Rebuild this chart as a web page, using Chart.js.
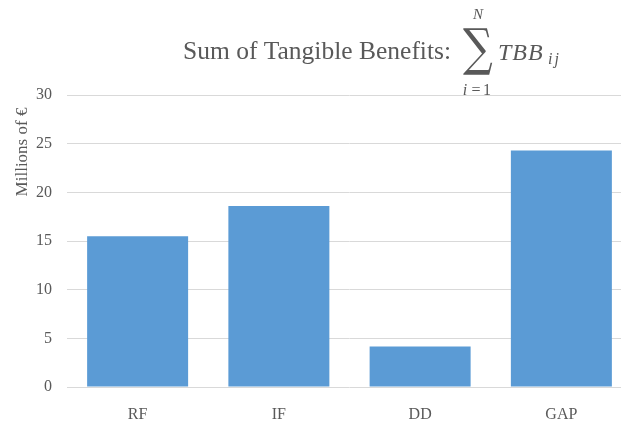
<!DOCTYPE html>
<html>
<head>
<meta charset="utf-8">
<script src="https://cdn.jsdelivr.net/npm/chart.js@4"></script>
<style>
  html, body { margin: 0; padding: 0; background: #fff; overflow: hidden; }
  #wrap { width: 632px; height: 421px; }
</style>
</head>
<body>
<div id="wrap"><canvas id="chartBarras" width="632" height="421"></canvas></div>
<script>
const categorias = ['RF', 'IF', 'DD', 'GAP'];
const beneficios = [15.5, 18.6, 4.15, 24.3];
const ticksY = [0, 5, 10, 15, 20, 25, 30];

const tituloTexto = 'Sum of Tangible Benefits:';
const eixoYTexto = 'Millions of \u20AC';
const corTexto = '#595959';
const fonteSerif = '"Liberation Serif", "Times New Roman", Times, "DejaVu Serif", serif';

// title with the sum formula + rotated y axis title
const pluginTitulo = {
    id: 'pluginTitulo',
    afterDraw(chart) {
        const ctx = chart.ctx;
        ctx.save();
        ctx.fillStyle = corTexto;
        ctx.textBaseline = 'alphabetic';
        ctx.textAlign = 'left';

        ctx.font = '25.5px ' + fonteSerif;
        ctx.fillText(tituloTexto, 183, 59);

        // big sigma, scaled to fit its box
        ctx.font = '50px "DejaVu Serif", serif';
        const m = ctx.measureText('\u2211');
        const w = m.actualBoundingBoxLeft + m.actualBoundingBoxRight;
        const h = m.actualBoundingBoxAscent + m.actualBoundingBoxDescent;
        const bx = 463, by = 28, bw = 30, bh = 47;
        ctx.save();
        ctx.translate(bx, by);
        ctx.scale(bw / w, bh / h);
        ctx.fillText('\u2211', m.actualBoundingBoxLeft, m.actualBoundingBoxAscent);
        ctx.restore();

        ctx.textAlign = 'center';
        ctx.font = 'italic 15px ' + fonteSerif;
        ctx.fillText('N', 478, 19);
        ctx.font = 'italic 16px ' + fonteSerif;
        ctx.fillText('i', 465, 95);
        ctx.font = '16px ' + fonteSerif;
        ctx.fillText('=', 476, 95);
        ctx.fillText('1', 487, 95);

        ctx.textAlign = 'left';
        ctx.font = 'italic 24px ' + fonteSerif;
        ctx.letterSpacing = '1px';
        ctx.fillText('TBB', 498, 60);
        ctx.font = 'italic 16px ' + fonteSerif;
        ctx.letterSpacing = '2px';
        ctx.fillText('ij', 548, 64);
        ctx.letterSpacing = '0px';

        // y axis title
        ctx.translate(27, 152);
        ctx.rotate(-Math.PI / 2);
        ctx.textAlign = 'center';
        ctx.font = '17px ' + fonteSerif;
        ctx.fillText(eixoYTexto, 0, 0);
        ctx.restore();
    }
};

const dadosBarras = {
    labels: categorias,
    datasets: [{
        label: 'TBB',
        data: beneficios,
        backgroundColor: '#5B9BD5',
        borderWidth: 0,
        categoryPercentage: 1,
        barPercentage: 0.715
    }]
};

const graficoBarras = new Chart(document.getElementById('chartBarras'), {
    type: 'bar',
    data: dadosBarras,
    options: {
        responsive: false,
        animation: false,
        events: [],
        layout: {
            padding: { top: 95, left: 0, right: 0, bottom: 0 }
        },
        plugins: {
            legend: { display: false },
            tooltip: { enabled: false },
            title: { display: false }
        },
        scales: {
            x: {
                grid: { display: false },
                border: { display: false },
                ticks: {
                    color: corTexto,
                    font: { family: fonteSerif, size: 16 },
                    padding: 10
                },
                afterFit(scale) { scale.height = 34; }
            },
            y: {
                min: 0,
                max: 30,
                afterBuildTicks(scale) {
                    scale.ticks = ticksY.map(v => ({ value: v }));
                },
                grid: {
                    color: '#D9D9D9',
                    lineWidth: 1,
                    drawTicks: false
                },
                border: { display: false },
                ticks: {
                    color: corTexto,
                    font: { family: fonteSerif, size: 16 },
                    padding: 15
                },
                afterFit(scale) { scale.width = 67; }
            }
        }
    },
    plugins: [pluginTitulo]
});
</script>
</body>
</html>
